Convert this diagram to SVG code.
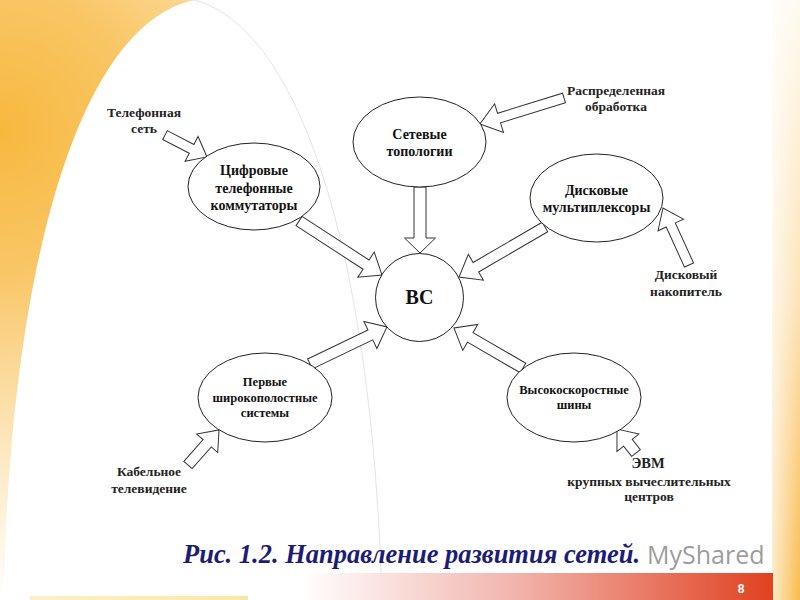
<svg xmlns="http://www.w3.org/2000/svg" width="800" height="600" viewBox="0 0 800 600">
<defs>
<radialGradient id="bgOr" cx="0" cy="130" r="470" gradientUnits="userSpaceOnUse">
<stop offset="0" stop-color="#f7b83e"/>
<stop offset="0.3" stop-color="#f9c666"/>
<stop offset="0.65" stop-color="#fde5b9"/>
<stop offset="1" stop-color="#ffffff"/>
</radialGradient>
<linearGradient id="rStrip" x1="0" y1="0" x2="0" y2="600" gradientUnits="userSpaceOnUse">
<stop offset="0" stop-color="#fffaf0"/>
<stop offset="0.5" stop-color="#fde3b5"/>
<stop offset="1" stop-color="#f8bb4c"/>
</linearGradient>
<linearGradient id="rStripH" x1="772" y1="0" x2="800" y2="0" gradientUnits="userSpaceOnUse">
<stop offset="0" stop-color="#ffffff" stop-opacity="0.7"/>
<stop offset="1" stop-color="#ffffff" stop-opacity="0"/>
</linearGradient>
<linearGradient id="bar" x1="300" y1="0" x2="775" y2="0" gradientUnits="userSpaceOnUse">
<stop offset="0" stop-color="#ffffff"/>
<stop offset="0.45" stop-color="#f2b5ad"/>
<stop offset="1" stop-color="#e0401f"/>
</linearGradient>
<linearGradient id="blBar" x1="30" y1="0" x2="248" y2="0" gradientUnits="userSpaceOnUse">
<stop offset="0" stop-color="#fdf0c8"/>
<stop offset="1" stop-color="#fbe7a8"/>
</linearGradient>
<style>
.node{fill:#ffffff;stroke:#222;stroke-width:1}
.arr{fill:#ffffff;stroke:#333;stroke-width:1;stroke-linejoin:miter}
.t{font-family:"Liberation Serif","Times New Roman",serif;font-weight:bold;font-size:14px;fill:#111;text-anchor:middle}
.ts{font-size:12.5px}
.lbl{font-family:"Liberation Serif","Times New Roman",serif;font-weight:bold;font-size:13.5px;fill:#222;text-anchor:middle}
</style>
</defs>

<!-- background -->
<rect x="0" y="0" width="800" height="600" fill="#ffffff"/>
<rect x="0" y="0" width="400" height="600" fill="url(#bgOr)"/>
<path d="M 4 600 C 8 300, 70 25, 195 0 L 400 0 L 400 600 Z" fill="#ffffff"/>
<path d="M 195 0 C 300 30, 372 250, 382 600" fill="none" stroke="#e4e4e4" stroke-width="1"/>
<rect x="772" y="0" width="28" height="600" fill="url(#rStrip)"/>
<rect x="772" y="0" width="28" height="600" fill="url(#rStripH)"/>
<rect x="300" y="573" width="473" height="27" fill="url(#bar)"/>
<rect x="30" y="596" width="218" height="4" fill="url(#blBar)"/>
<text x="741" y="593" font-family="Liberation Sans, Arial, sans-serif" font-weight="bold" font-size="12" fill="#ffffff" text-anchor="middle">8</text>

<!-- connectors -->
<g id="connectors">
<polygon class="arr" transform="translate(165,135) rotate(27.6)" points="0,-5 30,-5 30,-14 47.4,0 30,14 30,5 0,5"/>
<polygon class="arr" transform="translate(299,221) rotate(33.05)" points="0,-5.5 80,-5.5 80,-15 99,0 80,15 80,5.5 0,5.5"/>
<polygon class="arr" transform="translate(420,187) rotate(90)" points="0,-6 51,-6 51,-15.5 66,0 51,15.5 51,6 0,6"/>
<polygon class="arr" transform="translate(545,227) rotate(149.8)" points="0,-5.5 80,-5.5 80,-15 99.5,0 80,15 80,5.5 0,5.5"/>
<polygon class="arr" transform="translate(564,98) rotate(162.8)" points="0,-5 68,-5 68,-15 88,0 68,15 68,5 0,5"/>
<polygon class="arr" transform="translate(689,265) rotate(-114.5)" points="0,-5 44,-5 44,-14 62.7,0 44,14 44,5 0,5"/>
<polygon class="arr" transform="translate(310,364) rotate(-25.7)" points="0,-5.5 67,-5.5 67,-15 85.4,0 67,15 67,5.5 0,5.5"/>
<polygon class="arr" transform="translate(188,465) rotate(-48.5)" points="0,-5.5 29,-5.5 29,-14 46.8,0 29,14 29,5.5 0,5.5"/>
<polygon class="arr" transform="translate(523,368) rotate(-149.9)" points="0,-5.5 61,-5.5 61,-15 79.8,0 61,15 61,5.5 0,5.5"/>
<polygon class="arr" transform="translate(636,453) rotate(-128.4)" points="0,-5.5 13,-5.5 13,-14 30.6,0 13,14 13,5.5 0,5.5"/>
</g>

<!-- nodes -->
<g id="node-topologies">
<ellipse class="node" cx="419.5" cy="142" rx="66.5" ry="45"/>
<text class="t" x="419.5" y="139">Сетевые</text>
<text class="t" x="419.5" y="156">топологии</text>
</g>
<g id="node-switches">
<ellipse class="node" cx="254" cy="186.5" rx="66" ry="43.5"/>
<text class="t" x="254" y="175">Цифровые</text>
<text class="t" x="254" y="193">телефонные</text>
<text class="t" x="254" y="210">коммутаторы</text>
</g>
<g id="node-multiplexers">
<ellipse class="node" cx="596.5" cy="198" rx="66.5" ry="44"/>
<text class="t" x="596.5" y="195">Дисковые</text>
<text class="t" x="596.5" y="212">мультиплексоры</text>
</g>
<g id="node-vs">
<circle class="node" cx="419.5" cy="297.5" r="44"/>
<text class="t" x="419.5" y="304" style="font-size:20px">ВС</text>
</g>
<g id="node-broadband">
<ellipse class="node" cx="265" cy="397.5" rx="67" ry="44.5"/>
<text class="t ts" x="265" y="386">Первые</text>
<text class="t ts" x="265" y="402">широкополостные</text>
<text class="t ts" x="265" y="417">системы</text>
</g>
<g id="node-buses">
<ellipse class="node" cx="574" cy="397.5" rx="67" ry="44.5"/>
<text class="t ts" x="574" y="394">Высокоскоростные</text>
<text class="t ts" x="574" y="409">шины</text>
</g>

<!-- input labels -->
<g id="label-phone">
<text class="lbl" x="144" y="117">Телефонная</text>
<text class="lbl" x="144" y="133">сеть</text>
</g>
<g id="label-distributed">
<text class="lbl" x="616" y="95">Распределенная</text>
<text class="lbl" x="616" y="111">обработка</text>
</g>
<g id="label-storage">
<text class="lbl" x="686" y="279">Дисковый</text>
<text class="lbl" x="686" y="296">накопитель</text>
</g>
<g id="label-cable">
<text class="lbl" x="149" y="476">Кабельное</text>
<text class="lbl" x="149" y="493">телевидение</text>
</g>
<g id="label-evm">
<text class="lbl" x="648" y="468" style="font-size:14.5px">ЭВМ</text>
<text class="lbl" x="649" y="486">крупных вычеслительных</text>
<text class="lbl" x="649" y="501">центров</text>
</g>

<!-- caption -->
<text x="183" y="563" font-family="Liberation Serif, Times New Roman, serif" font-weight="bold" font-style="italic" font-size="27" fill="#1c1c78" textLength="457" lengthAdjust="spacingAndGlyphs">Рис. 1.2. Направление развития сетей.</text>
<text x="647" y="564" font-family="Open Sans, sans-serif" font-size="25" fill="#7a7a7a" fill-opacity="0.75">MyShared</text>
</svg>
